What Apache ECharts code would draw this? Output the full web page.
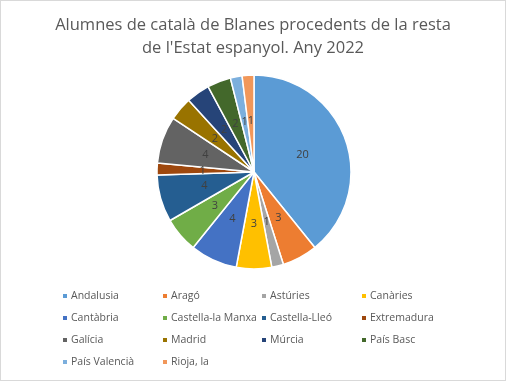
<!DOCTYPE html>
<html><head><meta charset="utf-8">
<script src="https://cdn.jsdelivr.net/npm/echarts@6/dist/echarts.min.js"></script>
<style>html,body{margin:0;padding:0;background:#fff}#c{width:504px;height:379px;border:1px solid #d9d9d9}</style>
</head><body><div id="c"></div>
<script>
const categories = ['Andalusia','Aragó','Astúries','Canàries','Cantàbria','Castella-la Manxa','Castella-Lleó','Extremadura','Galícia','Madrid','Múrcia','País Basc','País Valencià','Rioja, la'];
const values = [20,3,1,3,4,3,4,1,4,2,2,2,1,1];
const colors = ['#5B9BD5','#ED7D31','#A5A5A5','#FFC000','#4472C4','#70AD47','#255E91','#9E480E','#636363','#997300','#264478','#43682B','#7CAFDD','#F1975A'];
const titleText = "Alumnes de català de Blanes procedents de la resta\nde l'Estat espanyol. Any 2022";
const chart = echarts.init(document.getElementById('c'));
const colX = [55, 155, 254, 354];
const legends = colX.map((x, ci) => ({
  orient: 'vertical', left: x, top: 284,
  data: categories.filter((_, i) => i % 4 === ci),
  icon: 'rect', itemWidth: 6, itemHeight: 6, itemGap: 10,
  textStyle: { fontFamily: 'Open Sans', fontSize: 10.5, color: '#595959', lineHeight: 12, padding: [0,0,0,-2] },
  selectedMode: false
}));
chart.setOption({
  animation: false,
  color: colors,
  title: { text: titleText, left: 'center', top: 8, textStyle: { fontFamily: 'Open Sans', fontWeight: 'normal', fontSize: 16.5, color: '#595959', lineHeight: 23 } },
  legend: legends,
  series: [{
    type: 'pie', center: [253, 171], radius: [0, 97], startAngle: 90, clockwise: true,
    data: categories.map((c, i) => ({ name: c, value: values[i] })),
    itemStyle: { borderColor: '#fff', borderWidth: 1.5 },
    label: { position: 'inner', formatter: '{c}', fontFamily: 'Open Sans', fontSize: 11, color: '#404040' },
    labelLine: { show: false },
    labelLayout: { hideOverlap: false }
  }]
});
</script></body></html>
